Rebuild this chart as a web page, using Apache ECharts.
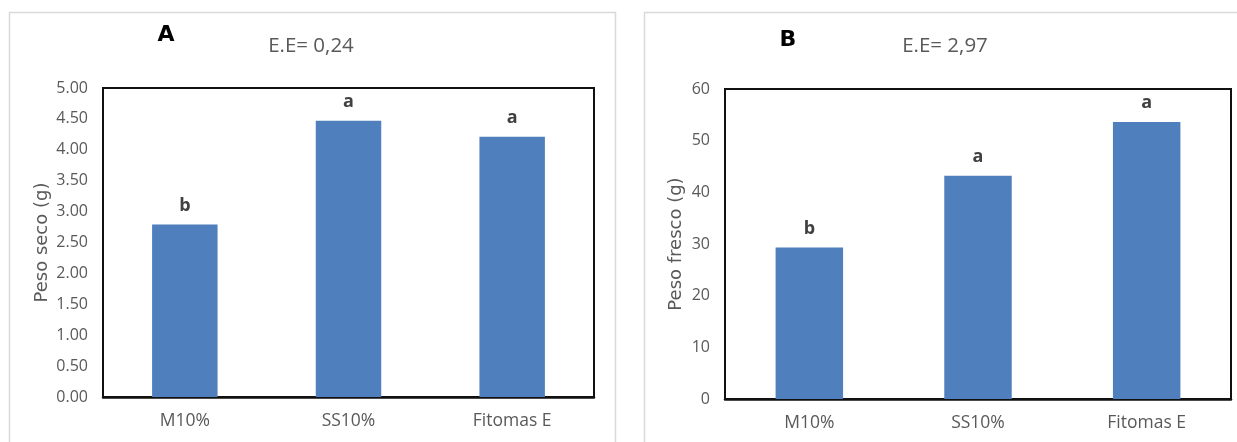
<!DOCTYPE html>
<html>
<head>
<meta charset="utf-8">
<script src="https://cdn.jsdelivr.net/npm/echarts@6/dist/echarts.min.js"></script>
<style>
html,body{margin:0;padding:0;background:#fff;}
#chart{width:1237px;height:442px;}
</style>
</head>
<body>
<div id="chart"></div>
<script>
// ---- data ----
var categories = ['M10%', 'SS10%', 'Fitomas E'];
var pesoSeco = [2.79, 4.47, 4.21];
var pesoFresco = [29.3, 43.2, 53.6];
var lettersA = ['b', 'a', 'a'];
var lettersB = ['b', 'a', 'a'];
var panelTitles = ['A', 'B'];
var eeTexts = ['E.E= 0,24', 'E.E= 2,97'];
var yNames = ['Peso seco (g)', 'Peso fresco (g)'];
var yMaxA = 5, yStepA = 0.5;
var yMaxB = 60, yStepB = 10;

var gray = '#595959';
var barColor = '#4f7fbc';
var tickFont = '"Open Sans", sans-serif';
var nameFont = '"DejaVu Sans", sans-serif';

function yAxis(idx, max, step, name, gap, fmt) {
  return {
    type: 'value', gridIndex: idx, min: 0, max: max, interval: step,
    name: name, nameLocation: 'middle', nameGap: gap,
    nameTextStyle: { color: gray, fontSize: 18, fontFamily: nameFont },
    axisLine: { show: true, lineStyle: { color: '#111', width: 2 } },
    axisTick: { show: false },
    splitLine: { show: false },
    axisLabel: { color: gray, fontSize: 16, fontFamily: tickFont, margin: 15, formatter: fmt }
  };
}
function xAxis(idx) {
  return {
    type: 'category', gridIndex: idx, data: categories,
    axisLine: { show: true, lineStyle: { color: '#111', width: 2.5 } },
    axisTick: { show: false },
    axisLabel: { color: gray, fontSize: 17.5, fontFamily: tickFont, margin: 15 }
  };
}
function barSeries(idx, vals, letters) {
  return {
    type: 'bar', xAxisIndex: idx, yAxisIndex: idx, data: vals, barWidth: '40%',
    itemStyle: { color: barColor },
    label: {
      show: true, position: 'top', distance: 10,
      color: '#404040', fontWeight: 'bold', fontSize: 18, fontFamily: tickFont,
      formatter: function (p) { return letters[p.dataIndex]; }
    }
  };
}

var chart = echarts.init(document.getElementById('chart'), null, { renderer: 'canvas' });
chart.setOption({
  backgroundColor: '#fff',
  animation: false,
  grid: [
    { left: 103, top: 88, width: 491, height: 309, show: true, borderColor: '#111', borderWidth: 2, backgroundColor: 'transparent' },
    { left: 725, top: 89, width: 506, height: 310, show: true, borderColor: '#111', borderWidth: 2, backgroundColor: 'transparent' }
  ],
  xAxis: [xAxis(0), xAxis(1)],
  yAxis: [
    yAxis(0, yMaxA, yStepA, yNames[0], 52, function (v) { return v.toFixed(2); }),
    yAxis(1, yMaxB, yStepB, yNames[1], 40, function (v) { return String(v); })
  ],
  series: [barSeries(0, pesoSeco, lettersA), barSeries(1, pesoFresco, lettersB)],
  graphic: [
    { type: 'rect', silent: true, z: -1, shape: { x: 9.5, y: 12.5, width: 606, height: 460 }, style: { fill: 'none', stroke: '#d9d9d9', lineWidth: 1.5 } },
    { type: 'rect', silent: true, z: -1, shape: { x: 644.5, y: 12.5, width: 620, height: 460 }, style: { fill: 'none', stroke: '#d9d9d9', lineWidth: 1.5 } },
    { type: 'text', x: 166, y: 35, style: { text: panelTitles[0], font: 'bold 22px "DejaVu Sans", sans-serif', fill: '#000', textAlign: 'center', textVerticalAlign: 'middle' } },
    { type: 'text', x: 311, y: 46, style: { text: eeTexts[0], font: '20.5px "Open Sans", sans-serif', fill: gray, textAlign: 'center', textVerticalAlign: 'middle' } },
    { type: 'text', x: 788, y: 40, style: { text: panelTitles[1], font: 'bold 22px "DejaVu Sans", sans-serif', fill: '#000', textAlign: 'center', textVerticalAlign: 'middle' } },
    { type: 'text', x: 945, y: 46, style: { text: eeTexts[1], font: '20.5px "Open Sans", sans-serif', fill: gray, textAlign: 'center', textVerticalAlign: 'middle' } }
  ]
});
</script>
</body>
</html>
